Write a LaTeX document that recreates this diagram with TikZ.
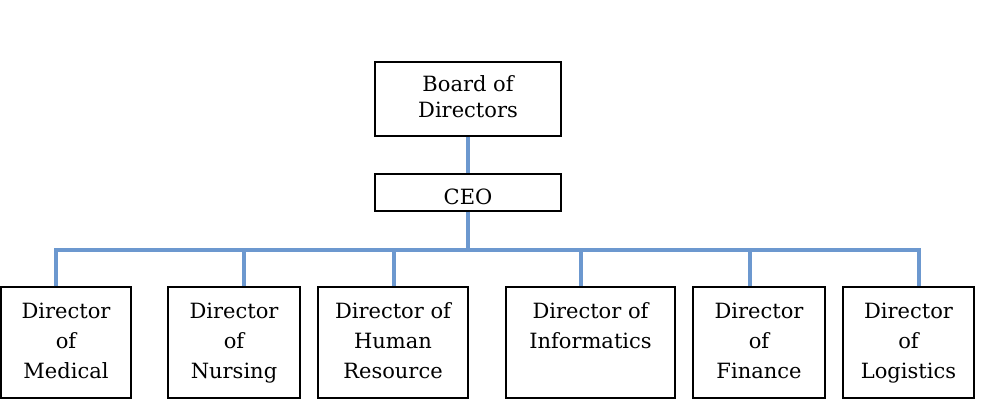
\documentclass[tikz,border=0pt]{standalone}
\usepackage{fontspec}
\setmainfont{DejaVu Serif}
\usepackage{tikz}
\definecolor{orgline}{RGB}{108,152,207}
\begin{document}
\begin{tikzpicture}[
   x=1pt,y=-1pt,
   orgbox/.style={draw,line width=1.4pt,inner sep=0pt,align=center,
     font=\fontsize{21}{30}\selectfont},
   orgtop/.style={orgbox,minimum width=186pt,minimum height=74pt,
     font=\fontsize{21}{26.5}\selectfont},
   orgceo/.style={orgbox,minimum width=186pt,minimum height=37pt,
     text height=23pt,text depth=0pt},
   orgdir/.style={orgbox,minimum height=111pt},
   orglink/.style={draw=orgline,line width=3.2pt}
 ]
 \useasboundingbox (0,0) rectangle (981,404);
 \node[orgtop] (board) at (468,99) {\strut Board of\\Directors\strut};
 \node[orgceo] (ceo) at (468,192.5) {CEO};
 % directors along the bottom row
 \node[orgdir,minimum width=130pt] (dmed) at (66,342.5) {\strut Director\\of\\Medical\strut};
 \node[orgdir,minimum width=132pt] (dnur) at (234,342.5) {\strut Director\\of\\Nursing\strut};
 \node[orgdir,minimum width=150pt] (dhr) at (393,342.5) {\strut Director of\\Human\\Resource\strut};
 \node[orgdir,minimum width=169pt] (dinf) at (590.5,342.5) {\strut Director of\\Informatics\\\strut};
 \node[orgdir,minimum width=132pt] (dfin) at (759,342.5) {\strut Director\\of\\Finance\strut};
 \node[orgdir,minimum width=131pt] (dlog) at (908.5,342.5) {\strut Director\\of\\Logistics\strut};
 % bus line
 \coordinate (bus) at (468,250);
 \foreach \name/\x in {med/56,nur/244,hr/394,inf/581,fin/750,log/919} {
   \coordinate (b\name) at (\x,250);
 }
 \draw[orglink] (board) -- (ceo);
 \draw[orglink] (ceo) -- (bus);
 \draw[orglink] (dmed.north -| bmed) -- (bmed) -- (blog) -- (dlog.north -| blog);
 \foreach \name in {nur,hr,inf,fin} {
   \draw[orglink] (b\name) -- (d\name.north -| b\name);
 }
\end{tikzpicture}
\end{document}
